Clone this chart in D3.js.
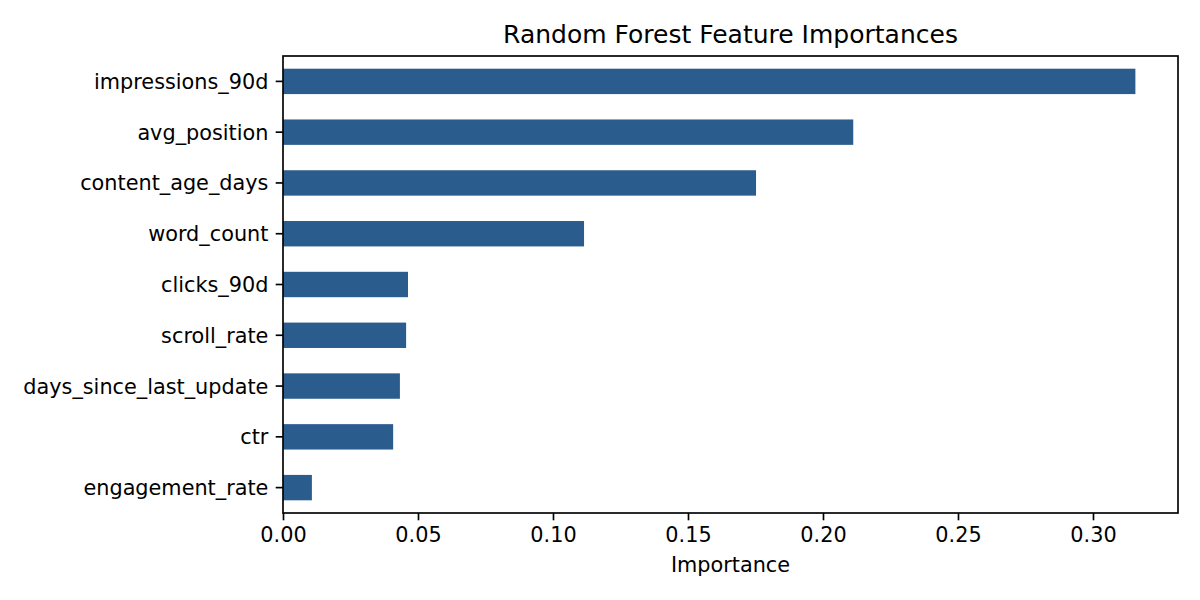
<!DOCTYPE html>
<html>
<head>
<meta charset="utf-8">
<script src="https://cdn.jsdelivr.net/npm/d3@7"></script>
<style>
  html, body { margin: 0; padding: 0; background: #ffffff; }
  svg { display: block; font-family: "DejaVu Sans", sans-serif; }
</style>
</head>
<body>
<svg id="chart" width="1200" height="600"></svg>
<script>
const features = ["impressions_90d", "avg_position", "content_age_days", "word_count", "clicks_90d", "scroll_rate", "days_since_last_update", "ctr", "engagement_rate"];
const importances = [0.3157, 0.2112, 0.1752, 0.1115, 0.0463, 0.0456, 0.0433, 0.0408, 0.0107];
const xTicks = [0.00, 0.05, 0.10, 0.15, 0.20, 0.25, 0.30];
const titleText = "Random Forest Feature Importances";
const xLabelText = "Importance";

(function () {
const data = features.map((f, i) => ({ feature: f, value: importances[i] }));

const svg = d3.select("#chart");
const mLeft = 283, mRight = 1178, mTop = 56, mBottom = 513;
const maxV = d3.max(importances);

const x = d3.scaleLinear().domain([0, maxV * 1.05]).range([mLeft, mRight]);
const y = d3.scaleBand().domain(features).range([mTop, mBottom]).paddingInner(0.5).paddingOuter(0.25);

const barColor = "#2b5c8e";
const tickFont = "20.8px";

// bars
svg.append("g").selectAll("rect").data(data).join("rect")
  .attr("x", x(0))
  .attr("y", d => y(d.feature))
  .attr("width", d => x(d.value) - x(0))
  .attr("height", y.bandwidth())
  .attr("fill", barColor);

// x axis
const xAxis = d3.axisBottom(x).tickValues(xTicks).tickFormat(d3.format(".2f")).tickSize(7.3).tickPadding(7.3);
const gx = svg.append("g").attr("transform", `translate(0,${mBottom})`).call(xAxis);
gx.select(".domain").remove();
gx.selectAll(".tick line").attr("stroke", "#000").attr("stroke-width", 1.67);
gx.selectAll(".tick text").attr("fill", "#000").style("font-size", tickFont)
  .attr("font-family", "DejaVu Sans").attr("dy", null).attr("y", 29);

// y axis
const yAxis = d3.axisLeft(y).tickSize(7.3).tickPadding(7.3);
const gy = svg.append("g").attr("transform", `translate(${mLeft},0)`).call(yAxis);
gy.select(".domain").remove();
gy.selectAll(".tick line").attr("stroke", "#000").attr("stroke-width", 1.67);
gy.selectAll(".tick text").attr("fill", "#000").style("font-size", tickFont)
  .attr("font-family", "DejaVu Sans").attr("dy", "0.36em");

// spines
svg.append("rect")
  .attr("x", mLeft).attr("y", mTop)
  .attr("width", mRight - mLeft).attr("height", mBottom - mTop)
  .attr("fill", "none").attr("stroke", "#000").attr("stroke-width", 1.67);

// title
svg.append("text")
  .attr("x", (mLeft + mRight) / 2).attr("y", 43)
  .attr("text-anchor", "middle")
  .style("font-size", "25px")
  .attr("fill", "#000")
  .text(titleText);

// x label
svg.append("text")
  .attr("x", (mLeft + mRight) / 2).attr("y", 572)
  .attr("text-anchor", "middle")
  .style("font-size", tickFont)
  .attr("fill", "#000")
  .text(xLabelText);
})();
</script>
</body>
</html>
